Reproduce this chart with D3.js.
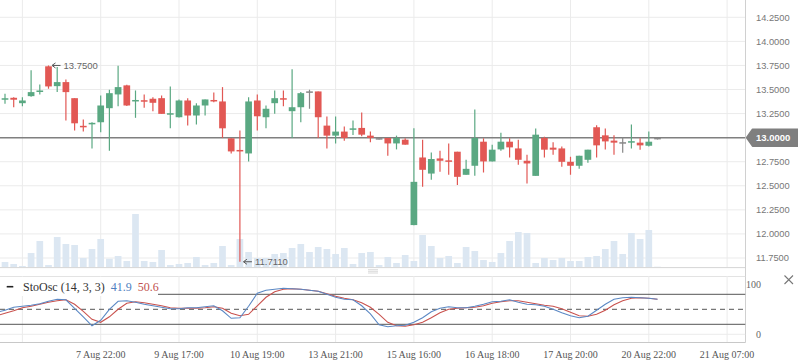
<!DOCTYPE html>
<html><head><meta charset="utf-8">
<script src="https://cdn.jsdelivr.net/npm/d3@7"></script>
<style>body{margin:0;background:#fff;} svg{display:block;}</style>
</head><body><svg id="c" width="798" height="363"></svg>
<script>
// ---- data (candle index starts at -1) ----
const firstIndex = -1;
const opens  = [13.247,13.398,13.414,13.358,13.431,13.478,13.741,13.535,13.577,13.41,13.12,13.141,13.16,13.306,13.449,13.543,13.381,13.386,13.404,13.41,13.242,13.212,13.386,13.23,13.334,13.391,13.376,12.993,12.87,12.836,13.386,13.212,13.358,13.407,13.275,13.316,13.473,13.48,13.125,13.021,13.063,13.084,13.101,13.021,12.987,12.997,12.94,12.979,12.092,12.794,12.627,12.784,12.76,12.854,12.614,12.708,12.958,12.753,12.878,12.958,12.888,12.76,12.603,12.997,12.896,12.888,12.749,12.708,12.77,13.108,13.024,12.969,12.945,12.953,12.948,12.916,12.99];
const highs  = [13.39,13.456,13.42,13.42,13.699,13.553,13.75,13.734,13.605,13.41,13.188,13.16,13.438,13.498,13.748,13.55,13.49,13.449,13.42,13.438,13.532,13.397,13.41,13.358,13.397,13.47,13.525,12.993,13.073,13.42,13.449,13.334,13.49,13.49,13.71,13.473,13.498,13.48,13.219,13.219,13.115,13.177,13.261,13.063,12.99,12.997,13.021,12.993,13.097,12.979,12.847,12.864,12.94,12.854,12.77,13.292,12.993,12.927,13.052,12.993,12.979,12.823,13.094,13.01,12.951,12.909,12.802,12.812,12.875,13.128,13.094,13.024,13.003,13.136,12.993,13.063,12.99];
const lows   = [13.22,13.352,13.316,13.327,13.425,13.449,13.508,13.473,13.177,13.073,13.063,12.888,13.055,12.864,13.327,13.33,13.206,13.31,13.275,13.247,13.097,13.21,13.125,13.136,13.23,13.368,12.997,12.836,11.711,12.753,13.073,13.097,13.247,13.327,12.997,13.16,13.30,12.997,12.888,12.94,12.969,13.028,13.014,12.951,12.984,12.812,12.878,12.925,12.09,12.489,12.562,12.645,12.614,12.509,12.614,12.603,12.638,12.753,12.864,12.794,12.718,12.523,12.603,12.794,12.823,12.697,12.614,12.676,12.739,12.794,12.878,12.823,12.843,12.888,12.875,12.909,12.99];
const closes = [13.368,13.405,13.394,13.386,13.473,13.486,13.532,13.577,13.473,13.149,13.11,13.151,13.334,13.462,13.525,13.334,13.386,13.376,13.362,13.247,13.25,13.386,13.23,13.334,13.397,13.376,13.097,12.857,12.859,13.376,13.222,13.30,13.41,13.397,13.316,13.462,13.473,13.212,13.021,13.063,12.997,13.094,13.031,12.997,12.987,12.94,12.997,12.927,12.541,12.666,12.778,12.76,12.753,12.593,12.676,12.997,12.753,12.875,12.958,12.899,12.77,12.732,13.031,12.875,12.875,12.749,12.708,12.812,12.875,12.92,12.961,12.948,12.945,12.958,12.92,12.958,12.99];
const volumes = [40,53,33,13,143,263,23,303,233,223,93,183,283,86,113,63,533,63,53,173,23,33,43,103,23,43,213,23,283,153,93,93,133,143,193,233,153,203,183,133,193,33,143,153,23,103,43,123,63,323,213,93,113,43,203,163,73,53,143,263,353,343,43,93,73,93,63,63,103,113,183,263,133,343,283,373,6];
const stochK = [44,48,54,56,58,61,66,70,69,52,35,17,28,50,66,67,64,60,57,54,51,51,53,53,55,57,47,32,33,56,82,88,90,92,91,90,88,86,80,74,70,69,57,41,19,15,17,18,24,33,45,52,55,53,53,56,60,65,66,69,64,60,59,56,50,43,37,33,36,48,60,70,73,74,73,72,70];
const stochD = [37,42,47,53,56,60,64,67,69,60,46,30,24,35,50,62,65,63,60,57,53,52,52,52,53,55,52,42,37,40,57,74,85,90,91,90,88,86,81,76,72,69,63,54,40,24,17,16,19,24,33,43,50,52,53,54,57,62,65,67,67,64,61,58,56,51,44,37,36,40,48,59,67,72,73,72,70];
const tickIndex  = [2, 11, 20, 29, 38, 47, 56, 65, 74, 83];
const tickLabels = ["", "7 Aug 22:00", "9 Aug 17:00", "10 Aug 19:00", "13 Aug 21:00", "15 Aug 16:00", "16 Aug 18:00", "17 Aug 20:00", "20 Aug 22:00", "21 Aug 07:00"];
const priceTicks = [11.75, 12.0, 12.25, 12.5, 12.75, 13.0, 13.25, 13.5, 13.75, 14.0, 14.25];
const lastPrice = 13.0;
const highMark = {index: 5, value: 13.75, label: "13.7500"};
const lowMark  = {index: 27, value: 11.711, label: "11.7110"};
const oscSolidLevels = [20, 80];
const oscDashLevel = 50;
const oscTicks = [0, 100];
const legendName = "StoOsc (14, 3, 3)", legendK = "41.9", legendD = "50.6";

// ---- layout ----
const W = 798, plotRight = 745.5;
const mainBottom = 267.3, oscTop = 276, oscBottom = 342.5;
const svg = d3.select("#c");
const x = d3.scaleLinear().domain([0, 83]).range([5, 727.1]);
const y = d3.scaleLinear().domain([11.75, 14.25]).range([258, 17.3]);
const yVol = d3.scaleLinear().domain([0, 1000]).range([mainBottom, mainBottom - 100]);
const yOsc = d3.scaleLinear().domain([0, 100]).range([334.3, 284.3]);

const candles = opens.map((o, k) => ({i: k + firstIndex, o, h: highs[k], l: lows[k], c: closes[k], v: volumes[k], K: stochK[k], D: stochD[k]}));

const defs = svg.append("defs");
defs.append("clipPath").attr("id", "clipMain").append("rect").attr("x", 0).attr("y", 0).attr("width", plotRight).attr("height", mainBottom);
defs.append("clipPath").attr("id", "clipOsc").append("rect").attr("x", 0).attr("y", oscTop).attr("width", plotRight).attr("height", oscBottom - oscTop);

const grid = "#ebebeb";
// main gridlines
const gMain = svg.append("g").attr("clip-path", "url(#clipMain)");
gMain.selectAll("line.hg").data(priceTicks).join("line")
  .attr("x1", 0).attr("x2", plotRight).attr("y1", d => y(d)).attr("y2", d => y(d))
  .attr("stroke", grid).attr("stroke-width", 1);
gMain.selectAll("line.vg").data(tickIndex).join("line").attr("class","vg")
  .attr("x1", d => x(d)).attr("x2", d => x(d)).attr("y1", 0).attr("y2", mainBottom)
  .attr("stroke", grid).attr("stroke-width", 1);

// volumes
const bw = 6.7;
gMain.selectAll("rect.vol").data(candles).join("rect").attr("class","vol")
  .attr("x", d => x(d.i) - bw/2).attr("width", bw)
  .attr("y", d => yVol(d.v)).attr("height", d => mainBottom - yVol(d.v))
  .attr("fill", "#dce7f2");

// last price line
gMain.append("line").attr("x1", 0).attr("x2", plotRight).attr("y1", y(lastPrice)).attr("y2", y(lastPrice))
  .attr("stroke", "#808080").attr("stroke-width", 1.5);

// candles
const col = d => d.c > d.o ? "#5aa882" : (d.c < d.o ? "#e25854" : "#888888");
const cg = gMain.selectAll("g.cd").data(candles).join("g");
cg.append("line").attr("x1", d => x(d.i)).attr("x2", d => x(d.i))
  .attr("y1", d => y(d.h)).attr("y2", d => Math.max(y(d.l), y(d.h) + 1))
  .attr("stroke", col).attr("stroke-width", 1.2);
cg.append("rect").attr("x", d => x(d.i) - bw/2).attr("width", bw)
  .attr("y", d => {const t = y(Math.max(d.o, d.c)), b = y(Math.min(d.o, d.c)); return b - t < 1.5 ? (t + b)/2 - 0.75 : t;})
  .attr("height", d => Math.max(1.5, y(Math.min(d.o, d.c)) - y(Math.max(d.o, d.c))))
  .attr("fill", col);

// high / low annotations
function mark(m) {
  const ax = x(m.index) + 3, ay = y(m.value);
  const g = svg.append("g");
  g.append("line").attr("x1", ax + 1).attr("x2", ax + 9).attr("y1", ay).attr("y2", ay).attr("stroke", "#555").attr("stroke-width", 1);
  g.append("path").attr("d", `M${ax+4},${ay-2.5} L${ax+0.5},${ay} L${ax+4},${ay+2.5}`).attr("fill", "none").attr("stroke", "#555").attr("stroke-width", 1);
  g.append("text").attr("x", ax + 12).attr("y", ay).attr("dy", "0.35em").text(m.label)
    .attr("font-family", "Liberation Sans, Arial, sans-serif").attr("font-size", 9.5).attr("fill", "#666");
}
mark(highMark);
mark(lowMark);

// main panel bottom border + separator handle
svg.append("line").attr("x1", 0).attr("x2", plotRight).attr("y1", mainBottom + 0.3).attr("y2", mainBottom + 0.3).attr("stroke", "#d6d6d6");
[269.7, 271.3, 273].forEach(yy => svg.append("line").attr("x1", 368).attr("x2", 378).attr("y1", yy).attr("y2", yy).attr("stroke", "#cfcfcf").attr("stroke-width", 0.8));

// right axis line
svg.append("line").attr("x1", plotRight).attr("x2", plotRight).attr("y1", 0).attr("y2", oscBottom).attr("stroke", "#d0d0d0");

// price axis labels
svg.selectAll("text.pl").data(priceTicks.filter(d => d !== lastPrice)).join("text")
  .attr("x", 756).attr("y", d => y(d)).attr("dy", "0.35em").text(d => d.toFixed(4))
  .attr("font-family", "Liberation Sans, Arial, sans-serif").attr("font-size", 9.3).attr("fill", "#777");

// last price badge
const ly = y(lastPrice);
svg.append("path").attr("d", `M746.5,${ly} L752.5,${ly-8.5} L798,${ly-8.5} L798,${ly+8.5} L752.5,${ly+8.5} Z`)
  .attr("fill", "#7f7f7f").attr("stroke", "#7f7f7f").attr("stroke-linejoin", "round").attr("stroke-width", 1.5);
svg.append("text").attr("x", 756).attr("y", ly).attr("dy", "0.35em").text(lastPrice.toFixed(4))
  .attr("font-family", "Liberation Sans, Arial, sans-serif").attr("font-size", 9.5).attr("font-weight", "bold").attr("fill", "#fff");

// ---- oscillator panel ----
const gOsc = svg.append("g").attr("clip-path", "url(#clipOsc)");
gOsc.append("line").attr("x1", 0).attr("x2", plotRight).attr("y1", oscTop + 0.5).attr("y2", oscTop + 0.5).attr("stroke", "#e3e3e3");
gOsc.selectAll("line.og").data(oscTicks.slice(0,1)).join("line")
  .attr("x1", 0).attr("x2", plotRight).attr("y1", d => yOsc(d)).attr("y2", d => yOsc(d)).attr("stroke", grid);
gOsc.selectAll("line.ov").data(tickIndex).join("line").attr("class","ov")
  .attr("x1", d => x(d)).attr("x2", d => x(d)).attr("y1", oscTop).attr("y2", oscBottom).attr("stroke", grid);
gOsc.selectAll("line.lv").data(oscSolidLevels).join("line").attr("class","lv")
  .attr("x1", 0).attr("x2", plotRight).attr("y1", d => yOsc(d)).attr("y2", d => yOsc(d)).attr("stroke", "#555").attr("stroke-width", 1);
gOsc.append("line").attr("x1", 0).attr("x2", plotRight).attr("y1", yOsc(oscDashLevel)).attr("y2", yOsc(oscDashLevel))
  .attr("stroke", "#555").attr("stroke-width", 1).attr("stroke-dasharray", "5,4");
const lineK = d3.line().x(d => x(d.i)).y(d => yOsc(d.K));
const lineD = d3.line().x(d => x(d.i)).y(d => yOsc(d.D));
gOsc.append("path").attr("d", lineD(candles)).attr("fill", "none").attr("stroke", "#c9524e").attr("stroke-width", 1.1);
gOsc.append("path").attr("d", lineK(candles)).attr("fill", "none").attr("stroke", "#5b88c4").attr("stroke-width", 1.1);
svg.append("line").attr("x1", 0).attr("x2", plotRight).attr("y1", oscBottom).attr("y2", oscBottom).attr("stroke", "#c8c8c8");

// legend
svg.append("rect").attr("x", 0).attr("y", 277).attr("width", 158).attr("height", 19).attr("fill", "#fff");
svg.append("line").attr("x1", 6.7).attr("x2", 13.3).attr("y1", 286.7).attr("y2", 286.7).attr("stroke", "#222").attr("stroke-width", 1.6);
const lt = svg.append("text").attr("x", 23).attr("y", 286.7).attr("dy", "0.35em")
  .attr("font-family", "Liberation Serif, Times New Roman, serif").attr("font-size", 12);
lt.append("tspan").text(legendName).attr("fill", "#333");
lt.append("tspan").attr("dx", 6).text(legendK).attr("fill", "#4f7fbf");
lt.append("tspan").attr("dx", 6).text(legendD).attr("fill", "#c0504d");

// osc axis labels
svg.selectAll("text.ot").data(oscTicks).join("text")
  .attr("x", 761).attr("y", d => yOsc(d)).attr("dy", "0.35em").attr("text-anchor", "end").text(d => d)
  .attr("font-family", "Liberation Serif, Times New Roman, serif").attr("font-size", 10).attr("fill", "#666");

// close icon
svg.append("path").attr("d", "M784.5,275.5 L793,284 M793,275.5 L784.5,284").attr("stroke", "#777").attr("stroke-width", 1.1);

// time axis labels
svg.selectAll("text.tl").data(tickIndex).join("text")
  .attr("x", d => x(d)).attr("y", 354.3).attr("dy", "0.35em").attr("text-anchor", "middle")
  .text((d, k) => tickLabels[k])
  .attr("font-family", "Liberation Serif, Times New Roman, serif").attr("font-size", 10).attr("fill", "#555");
</script></body></html>
